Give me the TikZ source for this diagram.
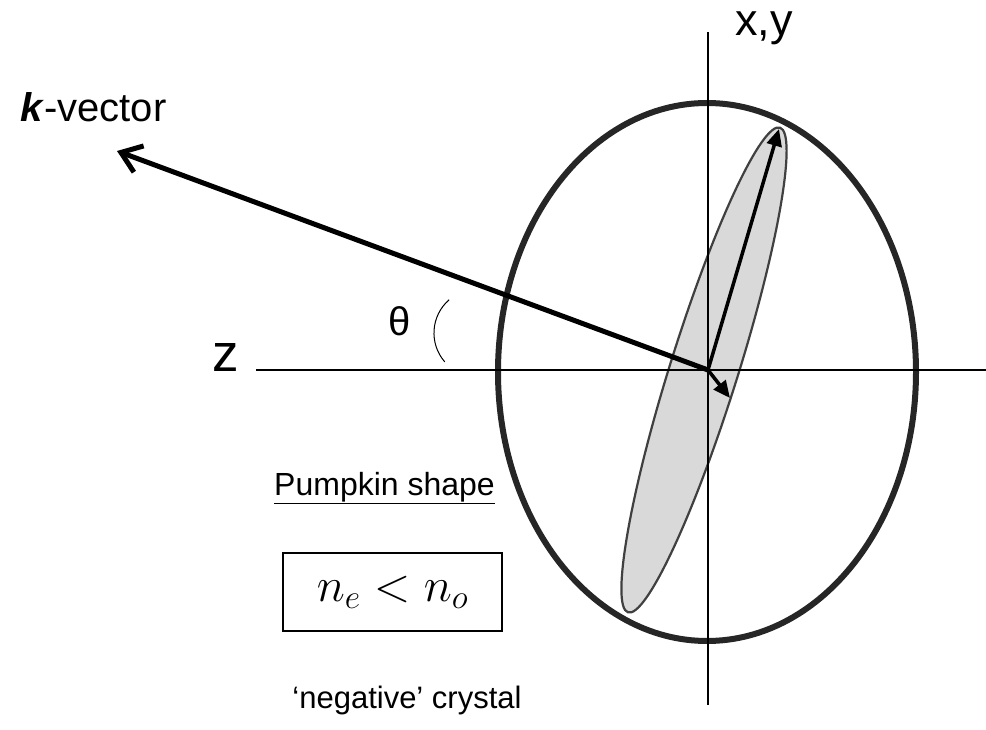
\RequirePackage{fix-cm}
\documentclass[tikz,border=0pt]{standalone}
\usepackage{fontspec}
\setmainfont{Liberation Sans}
\usepackage{tikz}
\usetikzlibrary{arrows.meta,positioning}
\usepackage{xcolor}
\definecolor{rimGray}{HTML}{262626}
\definecolor{cigarFill}{HTML}{D9D9D9}
\definecolor{cigarEdge}{HTML}{404040}

\begin{document}
\begin{tikzpicture}[x=1pt, y=1pt,
  axis/.style={line width=1.5pt, black},
  lbl/.style={inner sep=0pt, anchor=base west},
  vec/.style={-{Triangle[length=17pt,width=15pt]}, line width=3.5pt},
  kvec/.style={-{Straight Barb[length=19pt,width=28pt]}, line width=5pt},
  relbox/.style={draw, line width=1.3pt, minimum width=219pt, minimum height=78pt, inner sep=0pt}
]
\useasboundingbox (0,0) rectangle (986,729);

% Points
\coordinate (O) at (708,359);
\coordinate (zfar) at (256,359);
\coordinate (zend) at (986,359);
\coordinate (ytop) at (708,697);
\coordinate (ybot) at (708,24);
\coordinate (ktip) at (117,578);
\coordinate (etip) at (779,600);
\coordinate (otip) at (730,331);
\coordinate (arcS) at (449.1,429.2);

% Index surfaces
\draw[line width=6pt, rimGray] (707,357) ellipse [x radius=209, y radius=269];
\filldraw[fill=cigarFill, draw=cigarEdge, line width=2.2pt, rotate around={72.6:(704,359)}]
  (704,359) ellipse [x radius=254, y radius=34];

% Axes
\draw[axis] (zfar) -- (zend);
\draw[axis] (ytop) -- (ybot);

% Vectors
\draw[kvec] (O) -- (ktip);
\draw[vec] (O) -- (etip);
\draw[vec] (O) -- (otip);
\draw[line width=1pt] (arcS) arc[start angle=131, end angle=221, radius=44];

% Labels
\node[lbl, font=\fontsize{45}{54}\selectfont] (xy) at (735,693) {x,y};
\node[lbl, font=\fontsize{53}{62}\selectfont] (zlab) at (212,357) {z};
\node[lbl, font=\fontsize{40}{48}\selectfont] (klab) at (20,607) {\textbf{\textit{k}}-vector};
\node[inner sep=0pt, font=\fontsize{40}{48}\selectfont] (theta) at (400,408) {θ};

\node[relbox] (box) at (392.5,137) {\fontsize{48}{56}\selectfont $n_e < n_o$};
\node[above=57pt of box.north, anchor=base, xshift=-8pt, inner sep=0pt,
  font=\fontsize{32}{38}\selectfont] (shape) {\underline{Pumpkin shape}};
\node[below=77pt of box.south, anchor=base, xshift=14.5pt, inner sep=0pt,
  font=\fontsize{31}{37}\selectfont] (neg) {‘negative’ crystal};
\end{tikzpicture}
\end{document}
